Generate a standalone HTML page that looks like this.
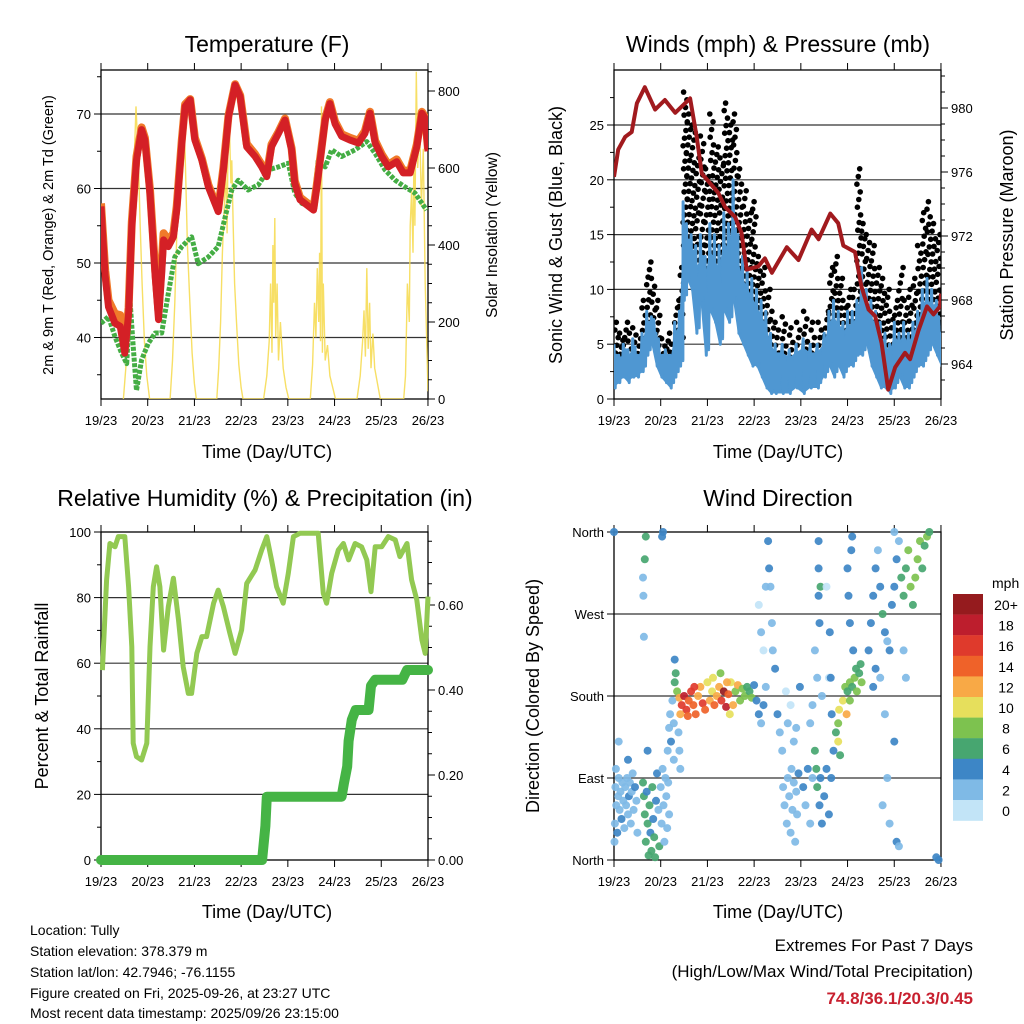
<!DOCTYPE html>
<html><head><meta charset="utf-8">
<style>
html,body{margin:0;padding:0;background:#fff;}
svg{display:block;font-family:"Liberation Sans",sans-serif;}
</style></head>
<body>
<svg id="c" width="1024" height="1024" viewBox="0 0 1024 1024" xmlns="http://www.w3.org/2000/svg">
<defs>
<clipPath id="cp1"><rect x="101" y="70" width="327" height="329"/></clipPath>
<clipPath id="cp2"><rect x="614" y="70" width="327" height="329"/></clipPath>
<clipPath id="cp3"><rect x="96" y="527" width="337" height="338"/></clipPath>
<clipPath id="cp4"><rect x="609" y="527" width="337" height="338"/></clipPath>
</defs>
<text x="267" y="52" font-size="23" text-anchor="middle">Temperature (F)</text>
<text x="778" y="52" font-size="23" text-anchor="middle">Winds (mph) &amp; Pressure (mb)</text>
<text x="265" y="506" font-size="23" text-anchor="middle">Relative Humidity (%) &amp; Precipitation (in)</text>
<text x="778" y="506" font-size="23" text-anchor="middle">Wind Direction</text>
<text transform="translate(53,235) rotate(-90)" font-size="14.5" text-anchor="middle">2m &amp; 9m T (Red, Orange) &amp; 2m Td (Green)</text>
<text transform="translate(497,235) rotate(-90)" font-size="15.5" text-anchor="middle">Solar Insolation (Yellow)</text>
<text transform="translate(562,235) rotate(-90)" font-size="18" text-anchor="middle">Sonic Wind &amp; Gust (Blue, Black)</text>
<text transform="translate(1013,235) rotate(-90)" font-size="18" text-anchor="middle">Station Pressure (Maroon)</text>
<text transform="translate(48,696) rotate(-90)" font-size="18" text-anchor="middle">Percent &amp; Total Rainfall</text>
<text transform="translate(539,696) rotate(-90)" font-size="18" text-anchor="middle">Direction (Colored By Speed)</text>
<text x="267" y="458" font-size="18" text-anchor="middle">Time (Day/UTC)</text>
<text x="778" y="458" font-size="18" text-anchor="middle">Time (Day/UTC)</text>
<text x="267" y="918" font-size="18" text-anchor="middle">Time (Day/UTC)</text>
<text x="778" y="918" font-size="18" text-anchor="middle">Time (Day/UTC)</text>
<g font-size="14">
<text x="30" y="935">Location: Tully</text>
<text x="30" y="956">Station elevation: 378.379 m</text>
<text x="30" y="977">Station lat/lon: 42.7946; -76.1155</text>
<text x="30" y="998">Figure created on Fri, 2025-09-26, at 23:27 UTC</text>
<text x="30" y="1018">Most recent data timestamp: 2025/09/26 23:15:00</text>
</g>
<text x="973" y="951" font-size="17" text-anchor="end">Extremes For Past 7 Days</text>
<text x="973" y="977" font-size="17" text-anchor="end">(High/Low/Max Wind/Total Precipitation)</text>
<text x="973" y="1004" font-size="17" font-weight="bold" fill="#c8202f" text-anchor="end">74.8/36.1/20.3/0.45</text>
</svg>
<script>
// ---------- data ----------
const dayLabels = ["19/23","20/23","21/23","22/23","23/23","24/23","25/23","26/23"];
const tempT = [0,0.09,0.16,0.3,0.41,0.51,0.59,0.66,0.76,0.87,0.94,1.05,1.16,1.23,1.30,1.34,1.44,1.55,1.62,1.73,1.80,1.91,2.01,2.16,2.30,2.44,2.51,2.62,2.73,2.87,2.98,3.12,3.30,3.44,3.55,3.65,3.80,3.94,4.08,4.15,4.26,4.55,4.62,4.80,4.90,5.01,5.15,5.33,5.51,5.65,5.76,5.87,6.01,6.15,6.33,6.47,6.62,6.76,6.87,6.94,7.0];
const tempRed = [57.6,48.2,44.1,41.9,41.5,37.9,43.2,54.9,63.8,67.9,66.5,59.3,48.2,42.4,48.6,53.1,52.2,53.5,57.1,66.1,71.0,71.9,66.5,63.8,60.2,58.0,56.9,62.5,69.6,73.9,72.3,65.6,64.3,62.9,61.6,65.6,67.4,69.2,65.2,60.7,58.5,57.1,60.2,69.2,71.4,68.7,67.0,66.5,66.1,67.4,70.1,66.1,64.3,62.9,63.6,62.1,62.1,65.6,70.1,69.4,65.0];
const tempOrange = [58.0,49.0,45.0,43.2,43.0,38.5,44.0,55.5,64.3,68.2,66.8,59.8,49.0,43.5,50.0,54.0,53.0,54.0,57.6,66.5,71.3,72.0,66.8,64.0,60.5,58.2,57.2,62.8,69.8,74.0,72.5,66.0,64.6,63.2,61.9,65.9,67.6,69.4,65.4,61.0,58.8,57.4,60.5,69.4,71.6,69.0,67.3,66.8,66.4,67.7,70.3,66.4,64.6,63.2,63.9,62.4,62.4,65.9,70.3,69.6,65.3];
const dewT = [0,0.16,0.3,0.44,0.55,0.62,0.69,0.76,0.87,1.01,1.16,1.30,1.44,1.58,1.73,1.94,2.08,2.30,2.51,2.66,2.80,2.94,3.15,3.37,3.58,3.80,4.01,4.15,4.30,4.55,4.65,4.80,4.94,5.15,5.44,5.69,5.87,6.08,6.30,6.51,6.72,6.97];
const dewV = [41.9,42.8,40.1,37.9,36.5,45.0,38.8,32.9,37.0,39.2,40.6,40.6,45.9,50.8,52.2,53.5,49.9,50.8,52.2,56.2,59.8,61.1,59.8,60.5,62.5,62.9,63.4,59.4,58.0,57.6,63.8,62.9,65.2,64.3,65.2,66.3,64.7,62.5,61.1,60.2,59.4,57.1];
const solarT = [0.48,0.53,0.58,0.63,0.68,0.72,0.75,0.77,0.80,0.84,0.88,0.93,0.98,1.04,
 1.48,1.53,1.58,1.62,1.66,1.70,1.74,1.78,1.81,1.85,1.90,1.95,2.0,2.04,
 2.48,2.52,2.56,2.6,2.64,2.67,2.7,2.72,2.75,2.78,2.8,2.83,2.86,2.9,2.95,3.0,3.04,
 3.48,3.55,3.6,3.63,3.66,3.68,3.7,3.72,3.74,3.77,3.8,3.84,3.9,3.96,4.02,
 4.48,4.53,4.57,4.6,4.63,4.66,4.68,4.7,4.72,4.74,4.76,4.8,4.85,4.9,4.96,5.02,
 5.48,5.55,5.6,5.63,5.66,5.69,5.72,5.75,5.78,5.82,5.86,5.92,5.98,
 6.48,6.52,6.56,6.6,6.62,6.65,6.68,6.7,6.72,6.75,6.78,6.82,6.86,6.9,6.94,6.97,7.0];
const solarV = [0,80,220,380,560,650,760,700,620,450,300,150,60,0,
 0,100,250,420,560,690,740,720,600,400,260,120,40,0,
 0,80,200,380,500,600,430,680,700,560,620,450,300,200,90,30,0,
 0,60,150,300,120,400,250,470,160,300,100,200,80,30,0,
 0,90,250,160,340,200,380,150,760,120,300,100,140,60,30,0,
 0,60,150,230,110,340,130,250,80,170,80,40,0,
 0,60,300,200,450,540,380,650,450,850,600,720,500,650,300,160,20];
const windT = [0,0.1,0.2,0.3,0.4,0.5,0.6,0.7,0.8,0.9,1.0,1.1,1.2,1.3,1.4,
 1.48,1.55,1.65,1.75,1.85,1.95,2.05,2.15,2.25,2.35,2.45,2.55,2.65,2.75,2.85,2.95,3.05,3.15,3.25,3.35,3.45,
 3.6,3.75,3.9,4.05,4.2,4.35,
 4.5,4.6,4.7,4.8,4.9,5.0,5.1,5.2,5.3,5.4,5.5,5.6,5.7,5.8,5.9,6.0,6.1,6.2,6.3,6.4,6.5,6.6,6.7,6.8,6.9,7.0];
const windLo = [1,1.5,2,1.5,2,2,2.5,4,5,3,2,1.5,1,2,3,
 9,11,10,6,9,4,8,7,5,8,7,9,6,5,4,3,3,2,1,0.5,0.5,
 0.5,0.5,1,0.5,1,1,
 2,3,2,3,2,3,3,4,4,5,3,2,1,1,0.5,1,2,1,1,2,3,3,4,5,4,3];
const windHi = [5,4,5,4.5,5.5,4,6,8,7.5,6,4,4.5,4,7,8,
 18,16,15,14,15,13,16,15,14,17,16,20,15,13,12,11,10,9,8,6,5,
 5,4.5,5,5.5,5,5,
 6,8,9,8,7,8,8,9,12,10,9,8,7,6,5,7,6,7,6,7,8,10,11,10,9,6];
const gustHi = [7,6,7,6,6.5,5.5,9,12.5,11,9,5.5,6,5,9,12,
 28,26,25,22,24,21,26,23,22,27,25,26,21,19,17,18,13,12,10,8,7,
 7.5,6.5,7,8,7,7,
 8,12,13,11,9,10,10,21,16,15,14,12,11,10,8,9,12,9,10,11,14,17,18,16,15,11];
const presT = [0,0.09,0.24,0.38,0.49,0.66,0.88,1.09,1.31,1.63,1.77,1.88,2.23,2.38,2.59,2.73,2.84,3.09,3.23,3.38,3.70,3.95,4.23,4.38,4.63,4.80,4.91,5.16,5.30,5.45,5.59,5.73,5.87,6.02,6.23,6.34,6.52,6.70,6.84,6.98,7.0];
const presV = [975.7,977.4,978.2,978.5,980.3,981.3,979.9,980.5,979.7,980.6,978.2,975.9,974.7,973.8,973.2,972.2,969.9,970.1,970.6,969.7,971.3,970.5,972.4,971.8,973.4,972.8,971.4,971.0,968.8,967.4,967.0,965.3,962.4,963.8,964.7,964.3,966.1,967.6,967.1,967.6,968.4];
const rhT = [0.03,0.12,0.19,0.3,0.37,0.51,0.59,0.66,0.69,0.76,0.87,0.98,1.05,1.12,1.19,1.26,1.34,1.44,1.55,1.66,1.76,1.87,1.94,2.05,2.16,2.26,2.41,2.51,2.62,2.76,2.87,3.01,3.12,3.30,3.44,3.55,3.65,3.76,3.90,4.01,4.12,4.26,4.65,4.76,4.83,4.94,5.08,5.19,5.30,5.44,5.58,5.69,5.78,5.87,6.01,6.15,6.30,6.40,6.55,6.65,6.76,6.87,6.94,7.0];
const rhV = [57.9,85.4,96.5,95.5,98.6,98.6,83.3,65.0,35.6,31.5,30.5,35.6,65.0,83.3,89.4,83.3,64.0,77.2,85.9,73.2,58.9,50.8,50.8,63.0,68.1,68.1,78.3,82.3,77.2,69.1,63.0,70.1,84.3,88.4,94.5,98.6,91.5,83.3,78.3,87.4,98.6,99.6,99.6,81.3,78.3,87.4,94.5,96.5,91.5,96.5,95.5,91.5,81.8,95.5,95.5,98.6,97.6,92.5,96.5,85.4,79.3,67.1,63.0,80.3];
const rainT = [0,3.45,3.52,3.55,5.15,5.2,5.27,5.3,5.37,5.45,5.73,5.78,5.87,6.45,6.55,7.0];
const rainV = [0,0,0.08,0.149,0.149,0.18,0.22,0.28,0.33,0.353,0.353,0.41,0.424,0.424,0.447,0.447];
const dirT = [0.02,0.03,0.05,0.07,0.09,0.1,0.12,0.14,0.16,0.18,0.2,0.22,0.24,0.26,0.28,0.3,0.32,0.34,0.36,0.38,0.4,0.42,0.45,0.48,0.5,0.01,0.04,0.0,0.3,0.1,
0.62,0.64,0.66,0.68,0.7,0.72,0.74,0.76,0.78,0.8,0.82,0.84,0.86,0.88,0.9,0.66,0.68,0.62,0.63,0.64,0.72,0.95,0.92,0.97,
1.0,1.02,1.04,1.06,1.08,1.1,1.12,1.14,1.16,1.18,1.05,1.03,1.15,1.18,1.2,1.22,1.25,1.28,1.3,1.32,1.3,1.28,1.38,1.4,1.42,
1.35,1.4,1.45,1.5,1.55,1.6,1.65,1.7,1.75,1.8,1.85,1.9,1.95,2.0,2.05,2.1,2.15,2.2,2.25,2.3,2.35,2.4,2.45,2.5,2.55,2.6,2.65,2.7,2.75,2.8,2.85,2.9,2.95,3.0,3.05,3.1,3.15,3.2,3.25,1.42,1.58,1.72,2.12,2.28,2.42,2.48,
3.3,3.32,3.35,3.38,3.4,3.45,3.5,3.55,3.6,3.62,3.65,3.7,3.72,3.75,3.78,3.8,3.82,3.85,3.88,3.9,3.92,3.95,3.1,3.15,3.2,3.25,3.68,3.72,3.78,3.85,3.9,3.98,
4.05,4.1,4.15,4.2,4.25,4.3,4.33,4.35,4.4,4.42,4.45,4.5,4.55,4.6,4.65,4.38,4.38,4.38,4.4,4.42,4.3,4.35,4.45,4.2,4.25,4.6,4.55,4.62,4.64,4.66,4.7,4.75,4.8,4.82,4.8,4.84,4.9,4.95,
5.0,5.05,5.1,5.15,5.2,5.25,5.3,5.05,5.18,5.28,5.0,5.02,5.05,5.08,5.1,5.12,4.98,
5.45,5.5,5.55,5.6,5.65,5.7,5.75,5.8,5.85,5.9,5.95,6.0,6.05,6.1,6.15,6.2,6.25,6.3,6.35,6.4,6.45,6.5,6.55,6.6,6.65,6.7,6.75,5.7,5.75,5.85,5.9,6.05,6.1,6.0,5.8,5.55,5.6,6.2,6.25,6.0,6.9,6.95];
const dirV = [40,80,60,30,70,90,55,75,45,85,65,35,80,60,90,50,70,85,40,75,95,55,80,65,30,20,100,360,110,130,
85,70,50,20,75,40,5,60,30,10,80,45,25,3,65,330,355,310,290,245,120,55,95,15,
80,40,100,60,20,90,70,35,85,50,360,355,120,145,160,130,175,150,220,205,195,110,140,120,100,
185,178,170,180,165,175,185,170,160,180,190,172,165,195,175,185,170,180,190,175,185,168,182,195,170,185,192,175,188,180,190,185,178,192,175,160,150,170,190,160,158,190,200,205,195,160,
350,320,300,260,230,210,160,140,120,80,60,40,90,70,30,100,55,85,20,75,50,95,280,250,230,300,185,150,170,130,145,190,
80,60,100,40,90,120,100,80,60,90,40,70,100,50,90,350,320,290,260,300,230,200,180,150,170,200,300,250,200,160,120,140,150,165,130,115,175,190,
185,195,190,200,185,205,195,175,210,215,320,290,260,340,355,230,160,
230,260,290,320,340,300,270,250,240,230,280,300,330,350,310,290,320,340,300,280,310,330,350,320,345,355,360,200,60,90,40,20,15,130,160,190,210,230,200,360,3,0];
const dirS = [2,3,2,4,2,2,3,2,4,2,2,3,2,2,3,2,4,2,2,3,2,2,4,3,2,2,2,4,4,2,
6,7,6,6,4,7,6,6,4,7,6,4,6,7,4,6,7,2,2,2,4,3,4,6,
2,3,2,2,3,2,3,2,2,3,4,4,2,2,3,4,3,2,4,6,6,3,2,2,3,
8,12,16,18,16,14,16,14,14,12,12,16,14,10,12,10,14,12,12,16,20,18,14,10,12,8,12,8,8,8,6,6,8,4,4,4,2,4,2,12,14,16,10,8,12,10,
4,4,2,2,2,4,4,2,2,2,3,2,2,3,2,2,3,2,2,3,2,4,0,2,1,2,0,2,1,2,2,4,
4,2,4,2,2,6,6,6,4,4,4,4,4,4,4,4,4,4,4,6,2,2,2,2,2,0,0,4,4,4,4,6,8,10,10,6,10,8,
6,8,6,8,8,6,8,8,6,6,4,4,4,4,4,4,12,
4,4,4,4,2,4,6,4,2,4,4,4,4,2,6,6,6,8,8,6,8,8,8,6,6,8,6,2,2,2,2,4,2,4,2,4,4,2,2,2,4,4];
const speedLabels = ["0","2","4","6","8","10","12","14","16","18","20+"];
const speedColors = ["#c2e4f7","#7fbae6","#3d86c6","#47a670","#7dc24f","#e6df5c","#f8a946","#ef6229","#df3a2c","#bd1e2d","#951b1e"];

// ---------- helpers ----------
const svg = document.getElementById('c');
const NS = 'http://www.w3.org/2000/svg';
function mk(tag, attrs, parent){ const e=document.createElementNS(NS,tag); for(const k in attrs) e.setAttribute(k,attrs[k]); (parent||svg).appendChild(e); return e; }
const xL = (L)=> (t)=> L + t*46.71;
const x1 = xL(101), x2 = xL(614);
const yTemp = v => 337.5 - (v-40)*7.45;
const ySolar = v => 399 - v*0.385;
const yWind = v => 399 - v*10.96;
const yPres = v => 364 - (v-964)*16;
const yRH = v => 860 - v*3.28;
const yRain = v => 860 - v*425;
const yDir = v => 860 - v*328/360;
function pts(T,V,fx,fy){ return T.map((t,i)=>fx(t).toFixed(1)+','+fy(V[i]).toFixed(1)).join(' '); }

function frame(L,T,R,B,name,grid){
  const g = mk('g',{});
  
  
  grid.forEach(y=>{ const l=mk('line',{x1:L,x2:R,y1:y,y2:y,stroke:'#333','stroke-width':1.2},g);
    
     });
  const r = mk('rect',{x:L,y:T,width:R-L,height:B-T,fill:'none',stroke:'#000','stroke-width':1.3},g);
  
  
  const xf = L===101 ? x1 : x2;
  dayLabels.forEach((lab,i)=>{
    const x = xf(i);
    mk('line',{x1:x,x2:x,y1:B,y2:B+7,stroke:'#000'},g);
    mk('line',{x1:x,x2:x,y1:T,y2:T-7,stroke:'#000'},g);
    const t = mk('text',{x:x,y:B+26,'font-size':13,'text-anchor':'middle'},g);
    t.textContent = lab;
    
    
  });
  return g;
}
function yticks(g,vals,labels,fy,x,side,name,minor){
  vals.forEach((v,i)=>{
    const y=fy(v);
    mk('line',{x1:x,x2:x+(side<0?-7:7),y1:y,y2:y,stroke:'#000'},g);
    const t = mk('text',{x:x+(side<0?-10:10),y:y+5,'font-size':13,'text-anchor':side<0?'end':'start'},g);
    t.textContent = labels[i];
    
    
  });
  (minor||[]).forEach(v=>{ const y=fy(v); mk('line',{x1:x,x2:x+(side<0?-4:4),y1:y,y2:y,stroke:'#000'},g); });
}

// ---------- Panel 1: temperature ----------
{
  const g = frame(101,70,428,399,'temperature',[40,50,60,70].map(yTemp));
  yticks(g,[40,50,60,70],["40","50","60","70"],yTemp,101,-1,'temperature-y',[35,45,55,65,75]);
  yticks(g,[0,200,400,600,800],["0","200","400","600","800"],ySolar,428,1,'solar-y',[50,100,150,250,300,350,450,500,550,650,700,750,850]);
  const d = mk('g',{'clip-path':'url(#cp1)'});
  
  
  const s = mk('polyline',{points:pts(solarT,solarV,x1,ySolar),fill:'none',stroke:'#f6d94a','stroke-width':1.4,'stroke-opacity':0.85},d);
  
  
  const gr = mk('polyline',{points:pts(dewT,dewV,x1,yTemp),fill:'none',stroke:'#44ad44','stroke-width':5,'stroke-dasharray':'4 1.5','stroke-linejoin':'round'},d);
  
  
  const o = mk('polyline',{points:pts(tempT,tempOrange,x1,yTemp),fill:'none',stroke:'#f07a2a','stroke-width':8,'stroke-linejoin':'round'},d);
  
  
  const r = mk('polyline',{points:pts(tempT,tempRed,x1,yTemp),fill:'none',stroke:'#d42026','stroke-width':7,'stroke-linejoin':'round'},d);
  
  
}

// ---------- Panel 2: winds & pressure ----------
{
  const g = frame(614,70,941,399,'winds',[5,10,15,20,25].map(yWind));
  yticks(g,[0,5,10,15,20,25],["0","5","10","15","20","25"],yWind,614,-1,'wind-y',[2.5,7.5,12.5,17.5,22.5,27.5]);
  yticks(g,[964,968,972,976,980],["964","968","972","976","980"],yPres,941,1,'pressure-y',[963,965,966,967,969,970,971,973,974,975,977,978,979,981,982]);
  const d = mk('g',{'clip-path':'url(#cp2)'});
  
  
  const gg = mk('g',{fill:'#000'},d);
  
  
  windT.forEach((t,i)=>{
    const lo = windHi[i]*0.7, hi = gustHi[i];
    const n = Math.max(3, Math.round((hi-lo)/0.7));
    for(let j=0;j<=n;j++){
      const v = lo + (hi-lo)*j/n;
      const dt = (((i*7+j*13)%10)/10)*0.1;
      const c = mk('circle',{cx:x2(t+dt).toFixed(1),cy:yWind(v).toFixed(1),r:2.8},gg);
      
      
    }
  });
  const up = windT.map((t,i)=>x2(t).toFixed(1)+','+yWind(windHi[i]*0.85).toFixed(1));
  const dn = windT.map((t,i)=>x2(t).toFixed(1)+','+yWind(windLo[i]).toFixed(1)).reverse();
  const band = mk('polygon',{points:up.concat(dn).join(' '),fill:'#4f97d2'},d);
  
  
  const zz = [];
  windT.forEach((t,i)=>{ zz.push(x2(t).toFixed(1)+','+yWind(windHi[i]).toFixed(1)); zz.push(x2(t+0.025).toFixed(1)+','+yWind(windLo[i]).toFixed(1)); zz.push(x2(t+0.05).toFixed(1)+','+yWind((windHi[i]+windLo[i])/2+1).toFixed(1)); zz.push(x2(t+0.075).toFixed(1)+','+yWind(windLo[i]+0.5).toFixed(1)); });
  const b = mk('polyline',{points:zz.join(' '),fill:'none',stroke:'#4f97d2','stroke-width':3,'stroke-linejoin':'round'},d);
  
  
  const p = mk('polyline',{points:pts(presT,presV,x2,yPres),fill:'none',stroke:'#a11a1e','stroke-width':4,'stroke-linejoin':'round'},d);
  
  
}

// ---------- Panel 3: RH & precipitation ----------
{
  const g = frame(101,532,428,860,'humidity',[20,40,60,80].map(yRH));
  yticks(g,[0,20,40,60,80,100],["0","20","40","60","80","100"],yRH,101,-1,'humidity-y',[10,30,50,70,90]);
  yticks(g,[0,0.2,0.4,0.6],["0.00","0.20","0.40","0.60"],yRain,428,1,'rain-y',[0.05,0.1,0.15,0.25,0.3,0.35,0.45,0.5,0.55,0.65,0.7,0.75]);
  const d = mk('g',{'clip-path':'url(#cp3)'});
  
  
  const h = mk('polyline',{points:pts(rhT,rhV,x1,yRH),fill:'none',stroke:'#92c952','stroke-width':5,'stroke-linejoin':'round'},d);
  
  
  const r = mk('polyline',{points:pts(rainT,rainV,x1,yRain),fill:'none',stroke:'#45b445','stroke-width':10,'stroke-linejoin':'round','stroke-linecap':'round'},d);
  
  
}

// ---------- Panel 4: wind direction ----------
{
  const g = frame(614,532,941,860,'direction',[90,180,270].map(yDir));
  yticks(g,[0,90,180,270,360],["North","East","South","West","North"],yDir,614,-1,'direction-y',[]);
  const d = mk('g',{'clip-path':'url(#cp4)'});
  
  
  dirT.forEach((t,i)=>{
    const k = Math.min(10, Math.floor(dirS[i]/2));
    const c = mk('circle',{cx:x2(t).toFixed(1),cy:yDir(dirV[i]).toFixed(1),r:4,fill:speedColors[k],'fill-opacity':0.92},d);
    
    
  });
  const lg = mk('g',{});
  
  
  const u = mk('text',{x:992,y:588,'font-size':14},lg);
  u.textContent='mph';
  
  
  for(let i=0;i<11;i++){
    const k = 10-i, y = 594 + i*20.6;
    const rr = mk('rect',{x:953,y:y.toFixed(1),width:30,height:20.8,fill:speedColors[k]},lg);
    
    
    const t = mk('text',{x:1006,y:(y+16).toFixed(1),'font-size':14,'text-anchor':'middle'},lg);
    t.textContent = speedLabels[k];
    
    
  }
}
</script>
</body></html>
